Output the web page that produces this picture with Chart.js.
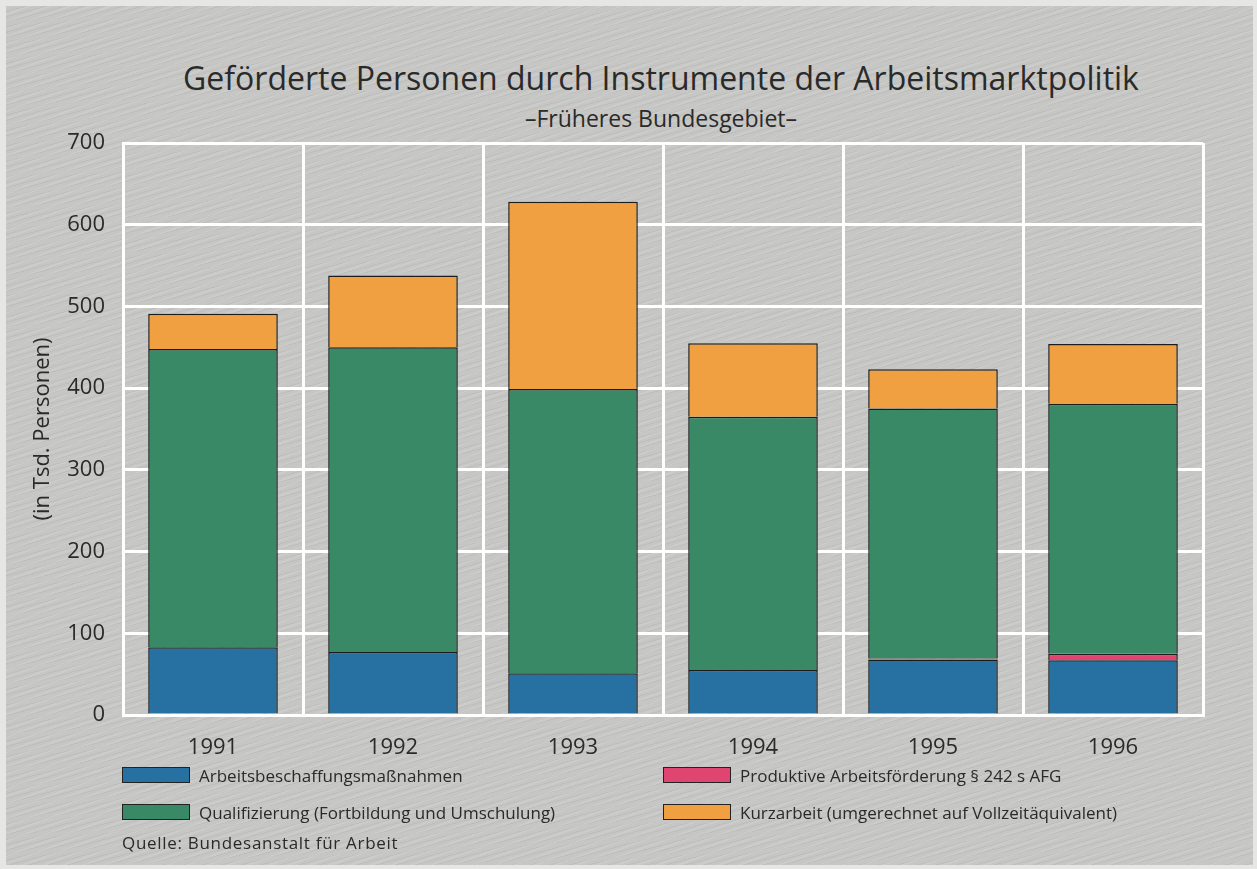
<!DOCTYPE html>
<html lang="de">
<head>
<meta charset="utf-8">
<title>Geförderte Personen durch Instrumente der Arbeitsmarktpolitik</title>
<script src="https://cdn.jsdelivr.net/npm/chart.js@4.4.1/dist/chart.umd.min.js"></script>
<style>
    html, body {
        margin: 0;
        padding: 0;
    }
    body {
        width: 1257px;
        height: 869px;
        position: relative;
        overflow: hidden;
        background-color: #e6e6e4;
        font-family: "Open Sans", "Noto Sans", sans-serif;
        color: #2a2a2a;
    }
    #panel {
        position: absolute;
        left: 6px;
        top: 6px;
        right: 4px;
        bottom: 4px;
        background-color: #c6c6c4;
        background-image:
            repeating-linear-gradient(160deg, rgba(255,255,255,0.10) 0 2px, rgba(0,0,0,0) 2px 7px),
            repeating-linear-gradient(165deg, rgba(0,0,0,0.04) 0 1px, rgba(0,0,0,0) 1px 5px);
    }
    #chartArbeitsmarkt {
        position: absolute;
        left: 0;
        top: 0;
    }
    .kopf {
        position: absolute;
        left: 661px;
        transform: translateX(-50%);
        white-space: nowrap;
        text-align: center;
    }
    #titel {
        top: 58px;
        font-size: 32px;
        line-height: 40px;
    }
    #untertitel {
        top: 104px;
        font-size: 23px;
        line-height: 28px;
    }
    #legende {
        position: absolute;
        left: 122px;
        top: 764px;
        display: grid;
        grid-template-columns: 541px 520px;
        row-gap: 15px;
        font-size: 17px;
    }
    .eintrag {
        display: flex;
        align-items: center;
        height: 22px;
    }
    .kasten {
        width: 66px;
        height: 14px;
        border: 1.5px solid #222;
        margin-right: 9px;
    }
    #quelle {
        position: absolute;
        left: 122px;
        top: 831px;
        font-size: 17px;
        letter-spacing: 0.7px;
    }
</style>
</head>
<body>
<div id="panel"></div>
<div id="titel" class="kopf">Geförderte Personen durch Instrumente der Arbeitsmarktpolitik</div>
<div id="untertitel" class="kopf">–Früheres Bundesgebiet–</div>
<canvas id="chartArbeitsmarkt" width="1257" height="869"></canvas>
<div id="legende"></div>
<div id="quelle">Quelle: Bundesanstalt für Arbeit</div>

<script>
// Werte in Tsd. Personen, Früheres Bundesgebiet
const jahre = ['1991', '1992', '1993', '1994', '1995', '1996'];
const abm = [83, 77, 51, 55, 68, 67];
const produktiv = [null, null, null, null, 1, 8];
const qualifizierung = [365, 373, 348, 310, 306, 306];
const kurzarbeit = [43, 88, 229, 90, 48, 73];
const achsenTicks = [0, 100, 200, 300, 400, 500, 600, 700];

const serien = [
    { label: 'Arbeitsbeschaffungsmaßnahmen', data: abm, farbe: '#2670a2' },
    { label: 'Produktive Arbeitsförderung § 242 s AFG', data: produktiv, farbe: '#e04470' },
    { label: 'Qualifizierung (Fortbildung und Umschulung)', data: qualifizierung, farbe: '#3a8966' },
    { label: 'Kurzarbeit (umgerechnet auf Vollzeitäquivalent)', data: kurzarbeit, farbe: '#f0a040' }
];

const schrift = '"Open Sans", "Noto Sans", sans-serif';
const textFarbe = '#2a2a2a';

function renderLegende(chart) {
    const box = document.getElementById('legende');
    box.innerHTML = '';
    chart.data.datasets.forEach(ds => {
        const item = document.createElement('div');
        item.className = 'eintrag';
        const kasten = document.createElement('span');
        kasten.className = 'kasten';
        kasten.style.backgroundColor = ds.backgroundColor;
        const text = document.createElement('span');
        text.textContent = ds.label;
        item.appendChild(kasten);
        item.appendChild(text);
        box.appendChild(item);
    });
}

const canvas = document.getElementById('chartArbeitsmarkt');

window.chartArbeitsmarkt = new Chart(canvas, {
    type: 'bar',
    data: {
        labels: jahre,
        datasets: serien.map(s => ({
            label: s.label,
            data: s.data,
            backgroundColor: s.farbe,
            borderColor: '#1c1c1c',
            borderWidth: 1.5,
            barPercentage: 0.8,
            categoryPercentage: 0.9
        }))
    },
    options: {
        responsive: false,
        animation: false,
        layout: {
            padding: { left: 30, right: 54, top: 143, bottom: 104 }
        },
        plugins: {
            legend: { display: false },
            tooltip: { enabled: false }
        },
        scales: {
            x: {
                stacked: true,
                grid: {
                    color: '#ffffff',
                    lineWidth: 3,
                    offset: true,
                    drawTicks: false
                },
                border: { display: true, color: '#ffffff', width: 3 },
                ticks: {
                    color: textFarbe,
                    font: { family: schrift, size: 22 },
                    padding: 20
                },
                afterFit: scale => { scale.height = 50; }
            },
            y: {
                stacked: true,
                min: 0,
                max: 700,
                afterBuildTicks: scale => {
                    scale.ticks = achsenTicks.map(v => ({ value: v }));
                },
                grid: {
                    color: '#ffffff',
                    lineWidth: 3,
                    drawTicks: false
                },
                border: { display: true, color: '#ffffff', width: 3 },
                ticks: {
                    color: textFarbe,
                    font: { family: schrift, size: 22 },
                    padding: 18
                },
                title: {
                    display: true,
                    text: '(in Tsd. Personen)',
                    color: textFarbe,
                    font: { family: schrift, size: 22 },
                    padding: { top: 0, bottom: 6 }
                },
                afterFit: scale => { scale.width = 93; }
            }
        }
    }
});

renderLegende(window.chartArbeitsmarkt);
</script>
</body>
</html>
